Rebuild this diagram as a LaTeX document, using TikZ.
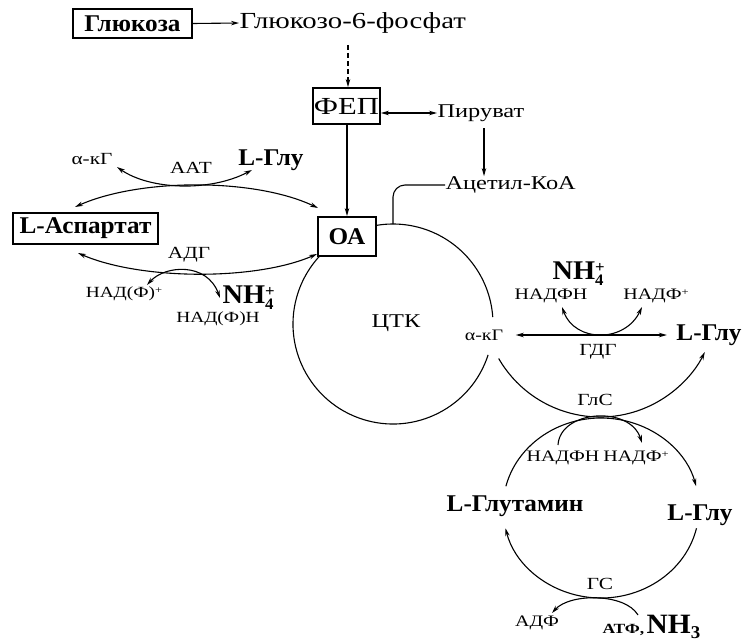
\documentclass[tikz,border=0pt]{standalone}
\usepackage{fontspec}
\setmainfont{Liberation Serif}[FakeStretch=1.05]
\newfontfamily\rg{Liberation Serif}[FakeStretch=1.25]
\usetikzlibrary{arrows.meta,calc}
\newcommand{\NHf}{NH\rlap{\smash{\raisebox{0.6ex}{\fontsize{16}{16}\selectfont +}}}\smash{\raisebox{-0.45ex}{\fontsize{16}{16}\selectfont 4}}}
\newcommand{\sups}[1]{\raisebox{0.6ex}{\fontsize{10}{10}\selectfont #1}}
\begin{document}
\begin{tikzpicture}[x=1pt,y=1pt,line width=1.1pt,
  tip/.tip={Stealth[length=8pt,width=4.5pt]},
  ar/.style={-tip},
  dar/.style={tip-tip},
  big/.style={font=\rg\fontsize{23}{25}\selectfont, inner sep=0pt},
  bigb/.style={font=\fontsize{24}{26}\selectfont\bfseries, inner sep=0pt},
  nhb/.style={font=\fontsize{27}{29}\selectfont\bfseries, inner sep=0pt},
  med/.style={font=\rg\fontsize{19.5}{21}\selectfont, inner sep=0pt},
  sml/.style={font=\rg\fontsize{17}{19}\selectfont, inner sep=0pt},
  tny/.style={font=\rg\fontsize{15.5}{18}\selectfont, inner sep=0pt},
  tnx/.style={font=\rg\fontsize{16}{18}\selectfont, inner sep=0pt},
  box/.style={draw, line width=1.8pt, fill=white, inner sep=0pt},
]
\useasboundingbox (0,0) rectangle (743,-642);
% TCA circle
\draw (393,-324) ++(100:100) arc[start angle=100,end angle=4,radius=100];
\draw (393,-324) ++(-18:100) arc[start angle=-18,end angle=-226,radius=100];
\node[med] (tca) at (396,-323) {ЦТК};
% top
\node[box,bigb,minimum width=119pt,minimum height=29pt] (glc) at (132.5,-23.5) {Глюкоза};
\node[big,anchor=west] (g6p) at (239,-23) {Глюкозо-6-фосфат};
\draw[ar] (glc.east) -- (g6p.west);
\node[box,font=\rg\fontsize{24.5}{26}\selectfont,minimum width=67pt,minimum height=36pt] (fep) at (346.5,-106) {ФЕП};
\coordinate (d0) at (348,-45);
\draw[ar,dash pattern=on 5pt off 3pt] (d0) -- (d0 |- fep.north);
\node[med,anchor=west] (pyr) at (437,-113) {Пируват};
\draw[dar] (fep.east |- pyr) -- (pyr.west);
\node[med,anchor=west] (acoa) at (445,-185) {Ацетил-КоА};
\coordinate (p0) at (484,-128);
\draw[ar] (p0) -- (p0 |- acoa.north);
\draw[rounded corners=12pt] (acoa.west) -| (393,-224);
\node[box,bigb,minimum width=58pt,minimum height=39pt] (oa) at (347,-236.5) {ОА};
\draw[ar,line width=1.4pt] (fep.south -| oa.north) -- (oa.north);
% left
\node[box,bigb,minimum width=145pt,minimum height=31pt] (asp) at (85.5,-228.5) {L-Аспартат};
\node[sml] (akg1) at (92,-159) {α-кГ};
\node[sml] (aat) at (191,-168) {ААТ};
\node[bigb] (glu1) at (271,-160) {L-Глу};
\coordinate (a1) at (75,-207);
\coordinate (a2) at (318,-208);
\draw[dar] (a1) .. controls (140,-178) and (255,-178) .. (a2);
\coordinate (b1) at (117,-167);
\coordinate (b2) at (252,-170);
\draw[dar] (b1) .. controls (150,-190) and (210,-192) .. (b2);
\node[sml] (adg) at (189,-255) {АДГ};
\coordinate (c1) at (78,-253);
\coordinate (c2) at (317,-254);
\draw[dar] (c1) .. controls (140,-280) and (255,-281) .. (c2);
\node[tny] (nadp1) at (124,-294) {НАД(Ф)\sups{+}};
\node[nhb] (nh41) at (248,-295) {\NHf};
\node[tny] (nadh1) at (218,-319) {НАД(Ф)Н};
\coordinate (e1) at (147,-285);
\coordinate (e2) at (220,-298);
\draw[dar] (e1) .. controls (165,-265) and (207,-262) .. (e2);
% right
\node[tnx] (akg2) at (484,-335) {α-кГ};
\node[bigb] (glu2) at (709,-335) {L-Глу};
\draw[dar,line width=1.5pt] ([xshift=12pt]akg2.east) -- ([xshift=-9pt]akg2.east -| glu2.west);
\node[sml] (gdg) at (598,-352) {ГДГ};
\node[nhb] (nh42) at (578,-271) {\NHf};
\node[tnx] (nadph2) at (551,-296) {НАДФН};
\node[tnx] (nadp2) at (656,-296) {НАДФ\sups{+}};
\coordinate (f1) at (562,-307);
\coordinate (f2) at (642,-307);
\draw[dar] (f1) .. controls (575,-343) and (625,-343) .. (f2);
% GOGAT arc
\draw[ar] (600,-300) ++(210:117) arc[start angle=210,end angle=333.6,radius=117];
\node[sml] (gls) at (595,-400) {ГлС};
% lower ellipse
\draw[ar] (601,-508) ++(166:98 and 90) arc[start angle=166,end angle=14,x radius=98,y radius=90];
\draw[ar] (601,-508) ++(-13:98 and 90) arc[start angle=-13,end angle=-167,x radius=98,y radius=90];
\node[tnx] (nadph3) at (563,-458) {НАДФН};
\node[tnx] (nadp3) at (636,-458) {НАДФ\sups{+}};
\coordinate (g1) at (558,-445);
\coordinate (g2) at (642,-443);
\draw[ar] (g1) .. controls (560,-410) and (630,-405) .. (g2);
\node[bigb] (gln) at (515,-506) {L-Глутамин};
\node[bigb] (glu3) at (700,-515) {L-Глу};
\node[sml] (gs) at (600,-584) {ГС};
\node[tnx] (adp) at (537,-623) {АДФ};
\node[inner sep=0pt,anchor=base west] (atp) at (602,-633) {\fontsize{14}{17}\selectfont\bfseries\rg АТФ,\,\fontsize{28}{30}\selectfont\rmfamily\bfseries NH\raisebox{-0.45ex}{\fontsize{18}{18}\selectfont 3}};
\coordinate (h1) at (638,-615);
\coordinate (h2) at (552,-613);
\draw[ar] (h1) .. controls (625,-593) and (570,-593) .. (h2);
\end{tikzpicture}
\end{document}
